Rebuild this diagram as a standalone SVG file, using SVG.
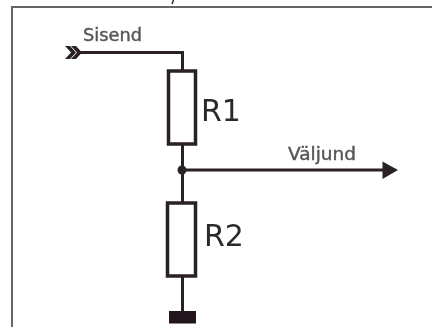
<svg xmlns="http://www.w3.org/2000/svg" width="432" height="327" viewBox="0 0 432 327">
<defs><filter id="b" x="-5%" y="-5%" width="110%" height="110%"><feGaussianBlur stdDeviation="0.45"/></filter></defs>
<style>
.w{fill:none;stroke:#2b2220;stroke-width:3}
.r{fill:#fff;stroke:#2b2220;stroke-width:3.500}
.s{font-family:"DejaVu Sans",sans-serif;font-size:17px;fill:#555;stroke:#555;stroke-width:0.400}
.n{font-family:"DejaVu Sans",sans-serif;font-size:30px;fill:#2b2b2b}
</style>
<rect width="432" height="327" fill="#fff"/>
<g filter="url(#b)">
<path d="M173.500 0L172 4" fill="none" stroke="#333" stroke-width="1.500"/>
<rect x="12" y="7" width="440" height="340" fill="#fff" stroke="#666" stroke-width="2"/>
<g id="connectors">
<path class="w" d="M78 52.500H182.500V71M182.500 144V203M182.500 276V313M182.500 170H386"/>
<path d="M65 46l6 6.500-6 6.500h5l6-6.500-6-6.500zM71 46l6 6.500-6 6.500h5l6-6.500-6-6.500z" fill="#2b2220"/>
<path d="M382.500 161.500L398 170L382.500 179Z" fill="#2b2220"/>
<circle cx="182" cy="170" r="4.500" fill="#2b2220"/>
</g>
<g id="sisend"><text class="s" x="83" y="40.500" textLength="59" lengthAdjust="spacingAndGlyphs">Sisend</text></g>
<g id="valjund"><text class="s" x="288" y="159.500" textLength="68" lengthAdjust="spacingAndGlyphs">Väljund</text></g>
<g id="r1"><rect class="r" x="168.500" y="71" width="27" height="73"/><text class="n" x="201" y="121">R1</text></g>
<g id="r2"><rect class="r" x="167.500" y="203" width="28" height="73"/><text class="n" x="204" y="246">R2</text></g>
<g id="ground"><rect x="169" y="311" width="27" height="12.500" fill="#20181a"/></g>
</g>
</svg>
